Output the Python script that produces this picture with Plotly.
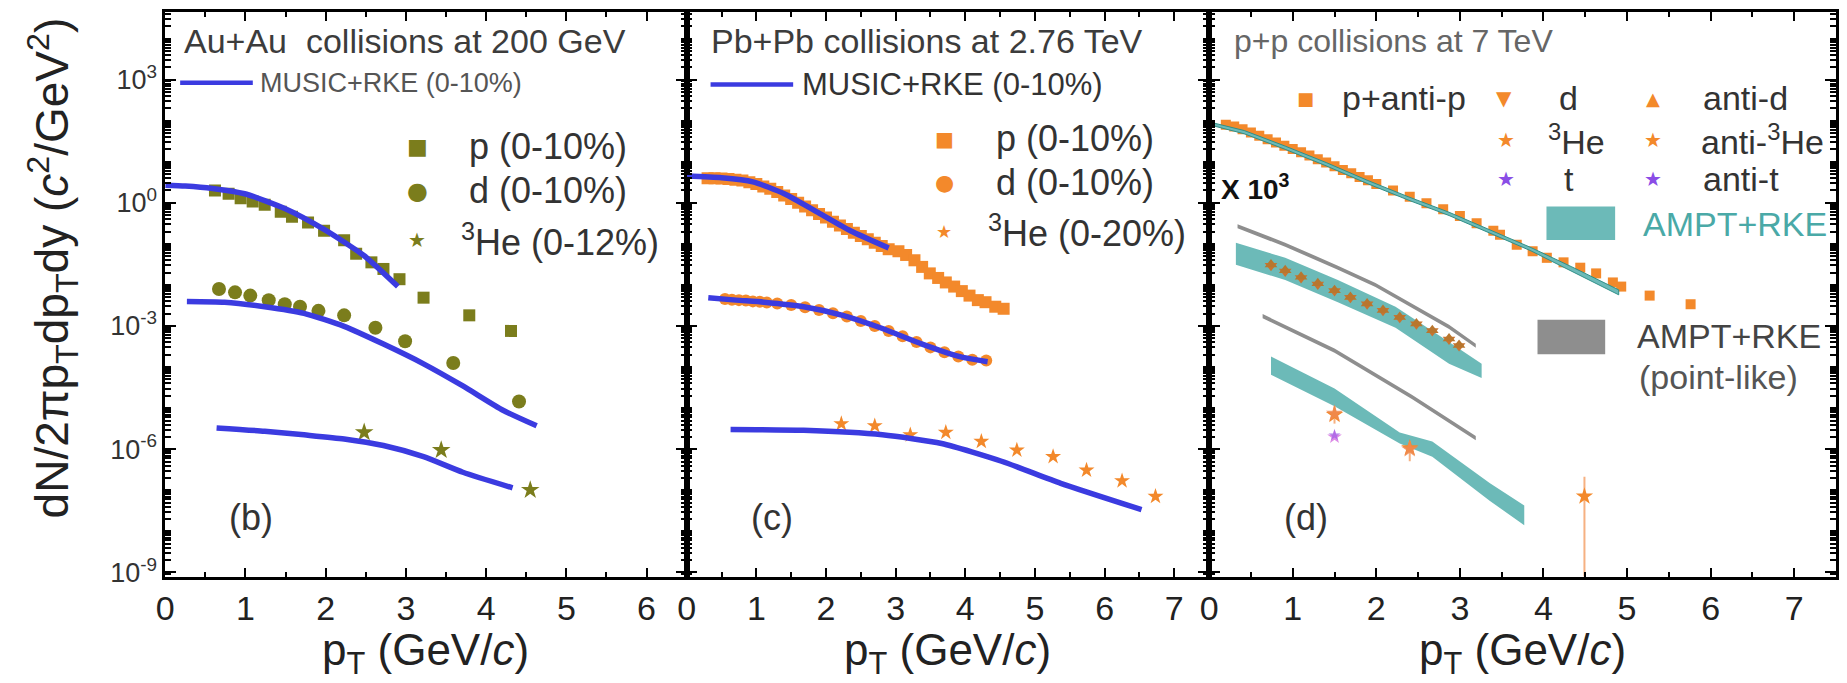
import plotly.graph_objects as go

W, H = 1847, 683

# ---------------- (b) Au+Au at 200 GeV ----------------
aa_p_pt = [0.62, 0.79, 0.94, 1.09, 1.24, 1.44, 1.58, 1.78, 1.98, 2.23, 2.38, 2.57, 2.72, 2.92, 3.22, 3.79, 4.31]
aa_p = [2.00, 1.66, 1.29, 1.07, 0.891, 0.603, 0.457, 0.331, 0.209, 0.123, 0.0575, 0.0355, 0.0245,
        0.0138, 0.0049, 0.00182, 0.00076]
aa_d_pt = [0.67, 0.87, 1.06, 1.29, 1.49, 1.68, 1.91, 2.23, 2.62, 2.99, 3.59, 4.41]
aa_d = [7.94e-3, 6.61e-3, 5.50e-3, 4.27e-3, 3.39e-3, 2.95e-3, 2.34e-3, 1.82e-3, 9.1e-4, 4.27e-4, 1.26e-4, 1.45e-5]
aa_he3_pt = [2.48, 3.44, 4.55]
aa_he3 = [2.57e-6, 9.5e-7, 1.02e-7]

aa_music_p_pt = [0.0, 0.25, 0.59, 0.99, 1.49, 1.98, 2.48, 2.90]
aa_music_p = [2.69, 2.57, 2.24, 1.66, 0.724, 0.224, 0.0513, 0.00912]
aa_music_d_pt = [0.27, 0.74, 1.24, 1.73, 2.23, 2.72, 3.22, 3.71, 4.21, 4.63]
aa_music_d = [3.98e-3, 3.80e-3, 2.95e-3, 2.04e-3, 9.8e-4, 3.63e-4, 1.20e-4, 3.47e-5, 8.9e-6, 3.72e-6]
aa_music_he3_pt = [0.64, 1.24, 1.73, 2.23, 2.72, 3.22, 3.71, 4.33]
aa_music_he3 = [3.31e-6, 2.75e-6, 2.24e-6, 1.78e-6, 1.23e-6, 6.6e-7, 2.75e-7, 1.15e-7]

# ---------------- (c) Pb+Pb at 2.76 TeV ----------------
pb_p_pt = [0.3, 0.4, 0.5, 0.6, 0.7, 0.8, 0.9, 1.0, 1.1, 1.2, 1.3, 1.4, 1.5, 1.6, 1.7, 1.8, 1.9, 2.0,
           2.1, 2.2, 2.3, 2.4, 2.5, 2.6, 2.7, 2.8, 2.9, 3.04, 3.15, 3.27, 3.38, 3.49, 3.61, 3.72,
           3.84, 3.95, 4.06, 4.18, 4.29, 4.43, 4.55]
pb_p = [3.98, 3.96, 3.89, 3.80, 3.63, 3.47, 3.16, 2.88, 2.51, 2.19, 1.82, 1.51, 1.23, 1.00, 0.813,
        0.661, 0.537, 0.437, 0.347, 0.282, 0.229, 0.186, 0.155, 0.129, 0.107, 0.0891, 0.0741,
        0.0661, 0.0537, 0.0398, 0.0275, 0.0191, 0.0148, 0.0115, 0.00912, 0.00708, 0.00550,
        0.00427, 0.00380, 0.00295, 0.00263]
pb_d_pt = [0.55, 0.65, 0.75, 0.85, 0.95, 1.05, 1.15, 1.3, 1.5, 1.7, 1.9, 2.1, 2.3, 2.5, 2.7, 2.9,
           3.1, 3.3, 3.5, 3.7, 3.9, 4.1, 4.3]
pb_d = [4.57e-3, 4.37e-3, 4.27e-3, 4.17e-3, 3.98e-3, 3.89e-3, 3.72e-3, 3.55e-3, 3.24e-3, 2.88e-3,
        2.45e-3, 2.04e-3, 1.70e-3, 1.32e-3, 1.00e-3, 7.6e-4, 5.6e-4, 4.07e-4, 3.02e-4, 2.29e-4,
        1.82e-4, 1.51e-4, 1.45e-4]
pb_he3_pt = [2.22, 2.70, 3.21, 3.72, 4.23, 4.74, 5.26, 5.74, 6.25, 6.73]
pb_he3 = [4.17e-6, 3.72e-6, 2.24e-6, 2.57e-6, 1.55e-6, 9.5e-7, 6.6e-7, 3.09e-7, 1.70e-7, 7.1e-8]

pb_music_p_pt = [0.0, 0.5, 0.95, 1.4, 1.9, 2.35, 2.9]
pb_music_p = [4.47, 4.07, 3.24, 1.66, 0.562, 0.209, 0.0794]
pb_music_d_pt = [0.31, 0.71, 1.11, 1.68, 2.24, 2.81, 3.38, 3.95, 4.32]
pb_music_d = [4.90e-3, 4.27e-3, 3.80e-3, 2.95e-3, 1.82e-3, 8.7e-4, 3.63e-4, 1.74e-4, 1.35e-4]
pb_music_he3_pt = [0.63, 1.68, 2.81, 3.66, 4.52, 5.37, 6.53]
pb_music_he3 = [3.02e-6, 2.88e-6, 2.24e-6, 1.38e-6, 5.1e-7, 1.48e-7, 3.39e-8]

# ---------------- (d) p+p at 7 TeV ----------------
pp_p_pt = [0.2, 0.3, 0.4, 0.5, 0.6, 0.7, 0.8, 0.9, 1.0, 1.1, 1.2, 1.3, 1.4, 1.5, 1.6, 1.7, 1.8, 1.9,
           2.0, 2.2, 2.4, 2.6, 2.8, 3.0, 3.2, 3.4, 3.48, 3.68, 3.87, 4.04, 4.24, 4.44, 4.63, 4.83,
           4.93, 5.27, 5.76]
pp_p = [79.4, 72.4, 61.7, 51.3, 42.7, 35.5, 29.5, 24.5, 20.4, 17.0, 14.1, 11.5, 9.55, 7.76, 6.31,
        5.25, 4.27, 3.55, 2.88, 2.00, 1.41, 0.977, 0.692, 0.479, 0.316, 0.209, 0.166, 0.0955,
        0.0661, 0.0457, 0.0355, 0.0263, 0.0191, 0.0115, 0.00912, 0.0055, 0.00339]

# light nuclei in p+p (raw yields, drawn multiplied by SCALE)
SCALE = 1e3
pp_nuc_pt = [0.74, 0.91, 1.10, 1.30, 1.50, 1.69, 1.89, 2.08, 2.28, 2.48, 2.67, 2.87, 2.99]
pp_d = [2.95e-5, 2.14e-5, 1.48e-5, 1.02e-5, 7.1e-6, 4.90e-6, 3.39e-6, 2.34e-6, 1.58e-6, 1.10e-6,
        7.6e-7, 4.68e-7, 3.24e-7]
pp_antid = [3.16e-5, 2.29e-5, 1.58e-5, 1.10e-5, 7.4e-6, 5.1e-6, 3.55e-6, 2.45e-6, 1.66e-6, 1.15e-6,
            7.9e-7, 5.0e-7, 3.47e-7]
pp_he3_pt = [1.50, 2.40, 4.49]
pp_he3 = [6.9e-9, 1.07e-9, 7.1e-11]
pp_he3_err_hi = [4.3e-9, 4.8e-10, 1.43e-10]
pp_he3_err_lo = [2.7e-9, 5.6e-10, 7.09e-11]
pp_antihe3_pt = [1.50, 2.40]
pp_antihe3 = [7.4e-9, 1.0e-9]
pp_t_pt = [1.50]
pp_t = [2.0e-9]
pp_antit = [2.2e-9]

# AMPT+RKE bands
ampt_p_pt = [0.0, 0.42, 0.91, 1.40, 1.89, 2.38, 2.87, 3.36, 3.85, 4.34, 4.90]
ampt_p_hi = [93.3, 57.5, 24.0, 9.55, 3.55, 1.41, 0.589, 0.219, 0.0813, 0.0275, 0.00759]
ampt_p_lo = [79.4, 47.9, 20.0, 7.94, 2.95, 1.17, 0.490, 0.182, 0.0676, 0.0219, 0.00575]
ampt_d_pt = [0.32, 0.91, 1.54, 2.23, 2.87, 3.26]
ampt_d_hi = [1.07e-4, 4.57e-5, 1.32e-5, 2.95e-6, 4.07e-7, 1.20e-7]
ampt_d_lo = [3.09e-5, 1.32e-5, 3.80e-6, 9.1e-7, 1.20e-7, 5.4e-8]
ampt_he3_pt = [0.74, 1.50, 2.28, 2.67, 3.36, 3.77]
ampt_he3_hi = [1.82e-7, 3.02e-8, 2.57e-9, 1.55e-9, 1.48e-10, 4.27e-11]
ampt_he3_lo = [6.5e-8, 1.12e-8, 1.38e-9, 6.6e-10, 5.5e-11, 1.41e-11]
# point-like coalescence
pl_d_pt = [0.34, 0.91, 1.54, 1.99, 2.38, 2.87, 3.19]
pl_d_hi = [3.02e-4, 1.07e-4, 2.95e-5, 1.12e-5, 3.98e-6, 1.07e-6, 3.72e-7]
pl_d_lo = [2.40e-4, 8.5e-5, 2.34e-5, 8.9e-6, 3.16e-6, 8.5e-7, 2.95e-7]
pl_he3_pt = [0.64, 1.50, 2.43, 3.19]
pl_he3_hi = [1.95e-6, 2.82e-7, 2.09e-8, 2.09e-9]
pl_he3_lo = [1.55e-6, 2.24e-7, 1.66e-8, 1.66e-9]

# ---------------- styling ----------------
OLIVE = "#7b7d1c"
ORANGE = "#f3892b"
BLUE = "#3b3be0"
TEAL = "#6cbab8"
TEAL_DARK = "#2f8f88"
GRAY = "#8e8e8e"
PURPLE = "#8a4de6"
FONT = "Liberation Sans, Arial, sans-serif"

fig = go.Figure()


def line(x, y, ax, color=BLUE, width=5.5):
    fig.add_trace(go.Scatter(x=x, y=y, mode="lines", xaxis=ax[0], yaxis=ax[1],
                             line=dict(color=color, width=width, shape="spline", smoothing=0.6),
                             showlegend=False, hoverinfo="skip"))


def points(x, y, ax, symbol, color, size, opacity=1.0):
    fig.add_trace(go.Scatter(x=x, y=y, mode="markers", xaxis=ax[0], yaxis=ax[1], opacity=opacity,
                             marker=dict(symbol=symbol, color=color, size=size, line=dict(width=0)),
                             showlegend=False, hoverinfo="skip"))


def band(x, hi, lo, ax, color, edge=None, scale=1.0):
    fig.add_trace(go.Scatter(x=list(x) + list(x)[::-1],
                             y=[v * scale for v in hi] + [v * scale for v in lo][::-1],
                             mode="lines", fill="toself", fillcolor=color, xaxis=ax[0], yaxis=ax[1],
                             line=dict(color=edge or color, width=1 if edge else 0),
                             showlegend=False, hoverinfo="skip"))


AB, AC, AD = ("x", "y"), ("x2", "y2"), ("x3", "y3")

# panel b
points(aa_p_pt, aa_p, AB, "square", OLIVE, 12)
points(aa_d_pt, aa_d, AB, "circle", OLIVE, 14)
points(aa_he3_pt, aa_he3, AB, "star", OLIVE, 14)
line(aa_music_p_pt, aa_music_p, AB)
line(aa_music_d_pt, aa_music_d, AB)
line(aa_music_he3_pt, aa_music_he3, AB)

# panel c
points(pb_p_pt, pb_p, AC, "square", ORANGE, 12)
points(pb_d_pt, pb_d, AC, "circle", ORANGE, 12)
points(pb_he3_pt, pb_he3, AC, "star", ORANGE, 12)
line(pb_music_p_pt, pb_music_p, AC)
line(pb_music_d_pt, pb_music_d, AC)
line(pb_music_he3_pt, pb_music_he3, AC)

# panel d
points(pp_p_pt, pp_p, AD, "square", ORANGE, 10)
band(ampt_p_pt, ampt_p_hi, ampt_p_lo, AD, TEAL, edge=TEAL_DARK)
band(pl_d_pt, pl_d_hi, pl_d_lo, AD, GRAY, scale=SCALE)
band(ampt_d_pt, ampt_d_hi, ampt_d_lo, AD, TEAL, scale=SCALE)
points(pp_nuc_pt, [v * SCALE for v in pp_d], AD, "triangle-down", "#c8742f", 11)
points(pp_nuc_pt, [v * SCALE for v in pp_antid], AD, "triangle-up", "#b8762e", 11)
band(pl_he3_pt, pl_he3_hi, pl_he3_lo, AD, GRAY, scale=SCALE)
band(ampt_he3_pt, ampt_he3_hi, ampt_he3_lo, AD, TEAL, scale=SCALE)
fig.add_trace(go.Scatter(x=pp_he3_pt, y=[v * SCALE for v in pp_he3], mode="markers",
                         xaxis="x3", yaxis="y3",
                         marker=dict(symbol="star", color=ORANGE, size=13),
                         error_y=dict(type="data", array=[v * SCALE for v in pp_he3_err_hi],
                                      arrayminus=[v * SCALE for v in pp_he3_err_lo],
                                      color="#f6b182", thickness=2, width=0),
                         showlegend=False, hoverinfo="skip"))
points(pp_antihe3_pt, [v * SCALE for v in pp_antihe3], AD, "star", "#f08a50", 13, opacity=0.85)
points(pp_t_pt, [v * SCALE for v in pp_t], AD, "star", "#d46fe0", 11, opacity=0.8)
points(pp_t_pt, [v * SCALE for v in pp_antit], AD, "star", PURPLE, 9, opacity=0.5)

# ---------------- axes ----------------
L, R = 157, 1836
XB, XC = 681, 1206
TOP, BOT = 12, 586


def px(x):
    return x / W


def py(y):
    return 1 - y / H


ydom = [py(BOT), py(TOP)]
labelled = [-9, -6, -3, 0, 3]
ymajor = [10.0 ** k for k in labelled]
ytext = ["10<sup>%d</sup>" % k for k in labelled]
yminor = [m * 10.0 ** k for k in range(-10, 5) for m in range(1, 10)
          if not (m == 1 and k in labelled)]

xcommon = dict(showline=True, linecolor="black", linewidth=2.5, mirror="allticks", ticks="inside",
               ticklen=9, tickwidth=2, tickcolor="black", dtick=1, tick0=0, showgrid=False,
               zeroline=False, tickfont=dict(family=FONT, size=34, color="#222"),
               minor=dict(dtick=0.5, tick0=0, ticks="inside", ticklen=5, tickwidth=1.5,
                          tickcolor="black", showgrid=False))
ycommon = dict(type="log", range=[-9.1, 4.65], domain=ydom, showline=True, linecolor="black",
               linewidth=2.5, mirror="allticks", ticks="inside", ticklen=11, tickwidth=2,
               tickcolor="black", tickmode="array", tickvals=ymajor, ticktext=ytext,
               showgrid=False, zeroline=False, tickfont=dict(family=FONT, size=27, color="#333"),
               minor=dict(tickmode="array", tickvals=yminor, ticks="inside", ticklen=6,
                          tickwidth=1.5, tickcolor="black", showgrid=False))

fig.update_layout(
    xaxis=dict(xcommon, domain=[px(L), px(XB)], range=[0, 6.5], anchor="y"),
    xaxis2=dict(xcommon, domain=[px(XB), px(XC)], range=[0, 7.5], anchor="y2"),
    xaxis3=dict(xcommon, domain=[px(XC), px(R)], range=[0, 7.5], anchor="y3"),
    yaxis=dict(ycommon, anchor="x"),
    yaxis2=dict(ycommon, anchor="x2", showticklabels=False),
    yaxis3=dict(ycommon, anchor="x3", showticklabels=False),
)

# ---------------- text, legends ----------------
ann = []
shapes = []


def text(x, y, s, size, color="#333", xanchor="left", font=FONT, **kw):
    ann.append(dict(x=px(x), y=py(y), xref="paper", yref="paper", text=s, showarrow=False,
                    xanchor=xanchor, yanchor="middle",
                    font=dict(family=font, size=size, color=color), **kw))


def glyph(x, y, g, color, size):
    text(x, y, g, size, color=color, xanchor="center", font="DejaVu Sans")


# axis titles
text(44, 272, "dN/2πp<sub>T</sub>dp<sub>T</sub>dy (<i>c</i><sup>2</sup>/GeV<sup>2</sup>)", 46,
     color="#222", xanchor="center", textangle=-90)
for xc in [(L + XB) / 2, (XB + XC) / 2, (XC + R) / 2]:
    text(xc, 664, "p<sub>T</sub> (GeV/<i>c</i>)", 44, color="#222", xanchor="center")

# panel b
text(174, 42, "Au+Au  collisions at 200 GeV", 34, color="#3c3c3c")
shapes.append(dict(type="line", xref="paper", yref="paper", x0=px(172), x1=px(245), y0=py(84),
                   y1=py(84), line=dict(color=BLUE, width=4.5)))
text(250, 84, "MUSIC+RKE (0-10%)", 27, color="#555")
glyph(410, 149, "■", OLIVE, 22)
glyph(410, 194, "●", OLIVE, 24)
glyph(410, 244, "★", OLIVE, 20)
text(460, 149, "p (0-10%)", 36)
text(460, 194, "d (0-10%)", 36)
text(452, 244, "<sup>3</sup>He (0-12%)", 36)
text(243, 526, "(b)", 36, xanchor="center")

# panel c
text(703, 42, "Pb+Pb collisions at 2.76 TeV", 34, color="#3c3c3c")
shapes.append(dict(type="line", xref="paper", yref="paper", x0=px(705), x1=px(788), y0=py(86),
                   y1=py(86), line=dict(color=BLUE, width=4.5)))
text(795, 86, "MUSIC+RKE (0-10%)", 31, color="#333")
glyph(940, 141, "■", ORANGE, 20)
glyph(940, 185, "●", ORANGE, 22)
glyph(940, 235, "★", ORANGE, 18)
text(990, 141, "p (0-10%)", 36)
text(990, 185, "d (0-10%)", 36)
text(982, 235, "<sup>3</sup>He (0-20%)", 36)
text(767, 526, "(c)", 36, xanchor="center")

# panel d
text(1229, 42, "p+p collisions at 7 TeV", 32, color="#666")
glyph(1303, 100, "■", ORANGE, 18)
text(1338, 100, "p+anti-p", 34)
glyph(1502, 100, "▼", ORANGE, 20)
text(1556, 100, "d", 34)
glyph(1652, 100, "▲", ORANGE, 18)
text(1700, 100, "anti-d", 34)
glyph(1504, 142, "★", ORANGE, 20)
text(1545, 142, "<sup>3</sup>He", 34)
glyph(1652, 142, "★", ORANGE, 20)
text(1698, 142, "anti-<sup>3</sup>He", 34)
glyph(1504, 182, "★", PURPLE, 20)
text(1568, 182, "t", 34, xanchor="center")
glyph(1652, 182, "★", PURPLE, 20)
text(1700, 182, "anti-t", 34)
text(1216, 190, "<b>X 10<sup>3</sup></b>", 28, color="#111")
shapes.append(dict(type="rect", xref="paper", yref="paper", x0=px(1545), x1=px(1614), y0=py(244),
                   y1=py(210), fillcolor=TEAL, line=dict(width=0)))
text(1640, 228, "AMPT+RKE", 34, color="#4aa9a7")
shapes.append(dict(type="rect", xref="paper", yref="paper", x0=px(1536), x1=px(1604), y0=py(360),
                   y1=py(325), fillcolor=GRAY, line=dict(width=0)))
text(1634, 342, "AMPT+RKE", 34, color="#444")
text(1636, 383, "(point-like)", 34, color="#555")
text(1303, 526, "(d)", 36, xanchor="center")

fig.update_layout(width=W, height=H, margin=dict(l=0, r=0, t=0, b=0), paper_bgcolor="white",
                  plot_bgcolor="white", annotations=ann, shapes=shapes, showlegend=False)

fig.write_html("out.html")
